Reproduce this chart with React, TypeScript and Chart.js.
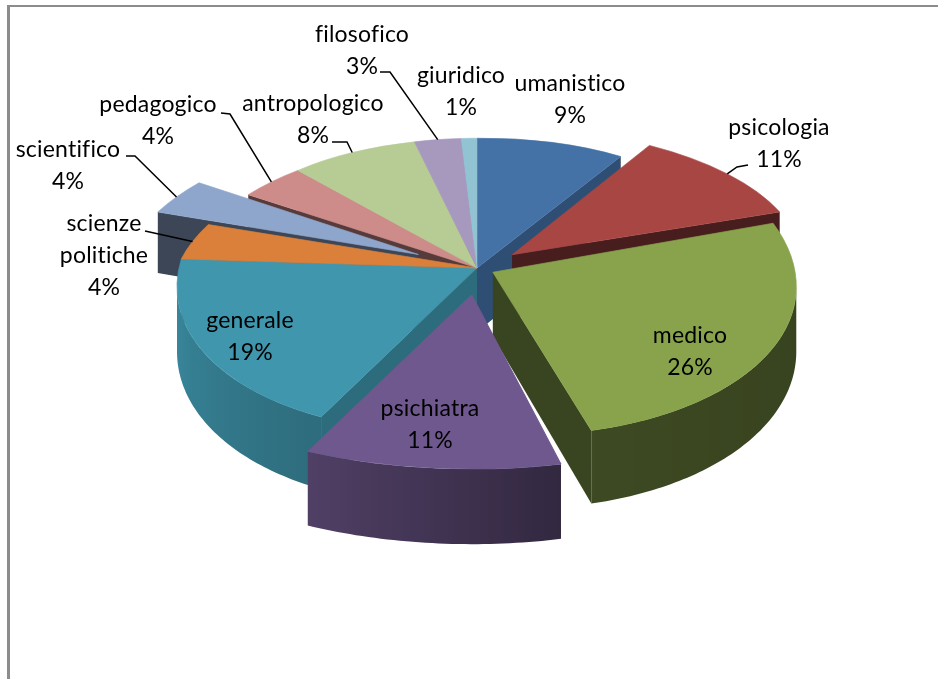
import React, { useEffect, useRef } from "react";
import { Chart, registerables } from "chart.js";

Chart.register(...registerables);

// Slices, clockwise from 12 o'clock
const categories = [
  "umanistico",
  "psicologia",
  "medico",
  "psichiatra",
  "generale",
  "scienze politiche",
  "scientifico",
  "pedagogico",
  "antropologico",
  "filosofico",
  "giuridico",
];
const percentages = [9, 11, 26, 11, 19, 4, 4, 4, 8, 3, 1];

// Top-face colours of the slices
const faceColors = [
  "#4471A6",
  "#A84644",
  "#88A34C",
  "#6F588D",
  "#3F96AD",
  "#DA803A",
  "#8FA6CC",
  "#CD8C8A",
  "#B7CB95",
  "#A798BE",
  "#91C3D3",
];

// How far each slice is pulled out, as a fraction of the radius
const explodeFractions = [0, 0.15, 0.06, 0.18, 0, 0, 0.22, 0, 0, 0, 0];

// Data-label placement: centre x, first baseline y, leader-line start points
const labelSpots: { x: number; y: number; leader?: [number, number][] }[] = [
  { x: 570, y: 91 },
  { x: 779, y: 135, leader: [[748, 165], [737, 167]] },
  { x: 690, y: 343 },
  { x: 430, y: 416 },
  { x: 250, y: 328 },
  { x: 104, y: 231, leader: [[145, 231]] },
  { x: 68, y: 157, leader: [[126, 156], [135, 156]] },
  { x: 158, y: 112, leader: [[221, 113], [230, 114]] },
  { x: 313, y: 111, leader: [[332, 142], [347, 142]] },
  { x: 362, y: 42, leader: [[380, 72], [390, 72]] },
  { x: 461, y: 83 },
];

// Tilted-disc view: centre, radii, perspective (left half / right half / vertical) and slab thickness
const VIEW = { cx: 477, cy: 268, rx: 300, ry: 146, pxLeft: 0.2, pxRight: 0.14, py: 0.125, depth: 64 };
const LABEL_FONT = "23px Lato";
const LINE_GAP = 32;
const CORNER_WEIGHT = 10;

// Shade of the curved rim by angle (degrees from 12 o'clock)
const rimShadeStops: [number, number][] = [
  [90, 0.4],
  [165, 0.45],
  [205, 0.72],
  [270, 0.92],
];

function rimShade(deg: number) {
  if (deg <= rimShadeStops[0][0]) return rimShadeStops[0][1];
  for (let k = 1; k < rimShadeStops.length; k++) {
    const [d1, f1] = rimShadeStops[k];
    const [d0, f0] = rimShadeStops[k - 1];
    if (deg <= d1) return f0 + ((deg - d0) / (d1 - d0)) * (f1 - f0);
  }
  return rimShadeStops[rimShadeStops.length - 1][1];
}

function shade(hex: string, f: number) {
  const n = parseInt(hex.slice(1), 16);
  const r = Math.round(((n >> 16) & 255) * f);
  const g = Math.round(((n >> 8) & 255) * f);
  const b = Math.round((n & 255) * f);
  return `rgb(${r},${g},${b})`;
}

// (u, d): position on the unit disc, u to the right, d towards the back
function project(u: number, d: number) {
  const px = u < 0 ? VIEW.pxLeft : VIEW.pxRight;
  const wx = 1 / (1 + px * d);
  const wy = 1 / (1 + VIEW.py * d);
  return { x: VIEW.cx + VIEW.rx * u * wx, y: VIEW.cy - VIEW.ry * d * wy };
}

type Pt = { x: number; y: number };

function sliceGeometry(arc: any, i: number) {
  const t1 = arc.startAngle + Math.PI / 2;
  const t2 = arc.endAngle + Math.PI / 2;
  const tm = (t1 + t2) / 2;
  const e = explodeFractions[i] || 0;
  const eu = e * Math.sin(tm);
  const ed = e * Math.cos(tm);
  const T = project(eu, ed);
  let m11: number, m12: number, m21: number, m22: number;

  if (e > 0) {
    // detached slice: weighted best-fit linear map of its rim around the tip
    const n = Math.max(4, Math.ceil((t2 - t1) / (Math.PI / 90)));
    let a11 = 0, a12 = 0, a22 = 0, b11 = 0, b12 = 0, b21 = 0, b22 = 0;
    for (let k = 0; k <= n; k++) {
      const t = t1 + ((t2 - t1) * k) / n;
      const w = k === 0 || k === n ? CORNER_WEIGHT : 1;
      const vx = Math.sin(t), vy = -Math.cos(t);
      const p = project(Math.sin(t) + eu, Math.cos(t) + ed);
      const sx = p.x - T.x, sy = p.y - T.y;
      a11 += w * vx * vx; a12 += w * vx * vy; a22 += w * vy * vy;
      b11 += w * sx * vx; b12 += w * sx * vy; b21 += w * sy * vx; b22 += w * sy * vy;
    }
    const da = a11 * a22 - a12 * a12;
    const j11 = a22 / da, j12 = -a12 / da, j22 = a11 / da;
    m11 = b11 * j11 + b12 * j12;
    m12 = b11 * j12 + b12 * j22;
    m21 = b21 * j11 + b22 * j12;
    m22 = b21 * j12 + b22 * j22;
  } else {
    // slices in place: exact at tip and both rim corners so that seams meet
    const c1 = project(Math.sin(t1), Math.cos(t1));
    const c2 = project(Math.sin(t2), Math.cos(t2));
    const v1x = Math.sin(t1), v1y = -Math.cos(t1);
    const v2x = Math.sin(t2), v2y = -Math.cos(t2);
    const det = v1x * v2y - v2x * v1y;
    const i11 = v2y / det, i12 = -v2x / det, i21 = -v1y / det, i22 = v1x / det;
    const s1x = c1.x - T.x, s1y = c1.y - T.y, s2x = c2.x - T.x, s2y = c2.y - T.y;
    m11 = s1x * i11 + s2x * i21;
    m12 = s1x * i12 + s2x * i22;
    m21 = s1y * i11 + s2y * i21;
    m22 = s1y * i12 + s2y * i22;
  }

  const rim = (t: number, r = 1): Pt => {
    const X = r * Math.sin(t), Y = -r * Math.cos(t);
    return { x: T.x + m11 * X + m12 * Y, y: T.y + m21 * X + m22 * Y };
  };
  const drop = (d: number) => VIEW.depth / (1 + VIEW.py * d);
  return { t1, t2, tm, eu, ed, T, m11, m12, m21, m22, rim, drop };
}

function drawWalls(ctx: CanvasRenderingContext2D, g: ReturnType<typeof sliceGeometry>, color: string) {
  const { t1, t2, tm, ed, T, rim, drop } = g;
  const inner = rim(tm, 0.5);
  const tipDrop = drop(ed);

  const radial = (t: number, nu: number) => {
    const C = rim(t);
    const vx = C.x - T.x, vy = C.y - T.y;
    const side = vx * (inner.y - T.y) - vy * (inner.x - T.x);
    if (side * vx >= 0) return;
    const cd = drop(Math.cos(t) + ed);
    const f = 0.42 + 0.3 * Math.min(1, Math.max(0, (nu - 0.3) / 0.6));
    ctx.beginPath();
    ctx.moveTo(T.x, T.y);
    ctx.lineTo(C.x, C.y);
    ctx.lineTo(C.x, C.y + cd);
    ctx.lineTo(T.x, T.y + tipDrop);
    ctx.closePath();
    ctx.fillStyle = shade(color, f);
    ctx.fill();
  };
  radial(t1, -Math.cos(t1));
  radial(t2, Math.cos(t2));

  // curved rim, only where it faces the viewer
  const steps = Math.max(2, Math.ceil((t2 - t1) / (Math.PI / 180)));
  const ts: number[] = [];
  const tops: Pt[] = [];
  for (let k = 0; k <= steps; k++) {
    const t = t1 + ((t2 - t1) * k) / steps;
    ts.push(t);
    tops.push(rim(t));
  }
  const runs: number[][] = [];
  let run: number[] = [];
  for (let k = 0; k < steps; k++) {
    if (tops[k].x > tops[k + 1].x) {
      if (!run.length) run.push(k);
      run.push(k + 1);
    } else if (run.length) {
      runs.push(run);
      run = [];
    }
  }
  if (run.length) runs.push(run);

  for (const r of runs) {
    const xr = tops[r[0]].x;
    const xl = tops[r[r.length - 1]].x;
    if (xr - xl < 0.5) continue;
    const grad = ctx.createLinearGradient(xr, 0, xl, 0);
    for (const k of r) {
      const off = Math.min(1, Math.max(0, (xr - tops[k].x) / (xr - xl)));
      grad.addColorStop(off, shade(color, rimShade((ts[k] * 180) / Math.PI)));
    }
    ctx.beginPath();
    r.forEach((k, j) => (j ? ctx.lineTo(tops[k].x, tops[k].y) : ctx.moveTo(tops[k].x, tops[k].y)));
    for (let j = r.length - 1; j >= 0; j--) {
      const k = r[j];
      ctx.lineTo(tops[k].x, tops[k].y + drop(Math.cos(ts[k]) + ed));
    }
    ctx.closePath();
    ctx.fillStyle = grad;
    ctx.fill();
  }
}

const pie3dPlugin = {
  id: "pie3d",
  beforeDatasetsDraw(chart: any) {
    const ctx: CanvasRenderingContext2D = chart.ctx;
    const arcs = chart.getDatasetMeta(0).data as any[];
    const geos = arcs.map((a, i) => sliceGeometry(a, i));

    // side walls, back to front
    const order = geos
      .map((g, i) => i)
      .sort((a, b) => Math.cos(geos[b].tm) + geos[b].ed - (Math.cos(geos[a].tm) + geos[a].ed));
    for (const i of order) drawWalls(ctx, geos[i], faceColors[i]);

    // top faces, drawn by the arc elements under the tilted-disc mapping
    arcs.forEach((arc, i) => {
      const g = geos[i];
      const R0 = arc.outerRadius;
      ctx.save();
      ctx.transform(
        g.m11 / R0,
        g.m21 / R0,
        g.m12 / R0,
        g.m22 / R0,
        g.T.x - (g.m11 * arc.x + g.m12 * arc.y) / R0,
        g.T.y - (g.m21 * arc.x + g.m22 * arc.y) / R0
      );
      arc.draw(ctx);
      ctx.restore();
    });
    return false;
  },
  afterDraw(chart: any) {
    const ctx: any = chart.ctx;
    const arcs = chart.getDatasetMeta(0).data as any[];
    ctx.save();
    ctx.font = LABEL_FONT;
    if ("letterSpacing" in ctx) ctx.letterSpacing = "0.2px";
    if ("textRendering" in ctx) ctx.textRendering = "optimizeSpeed";
    ctx.fillStyle = "#000";
    ctx.strokeStyle = "#000";
    ctx.lineWidth = 1.5;
    ctx.textAlign = "center";
    ctx.textBaseline = "alphabetic";
    arcs.forEach((arc, i) => {
      const spot = labelSpots[i];
      const lines = [...categories[i].split(" "), `${percentages[i]}%`];
      lines.forEach((txt, k) => ctx.fillText(txt, spot.x, spot.y + k * LINE_GAP));
      if (spot.leader) {
        const g = sliceGeometry(arc, i);
        const end = g.rim(g.tm);
        ctx.beginPath();
        spot.leader.forEach(([x, y], j) => (j ? ctx.lineTo(x, y) : ctx.moveTo(x, y)));
        ctx.lineTo(end.x, end.y);
        ctx.stroke();
      }
    });
    ctx.restore();
  },
};

export default function App() {
  const canvasRef = useRef<HTMLCanvasElement | null>(null);

  useEffect(() => {
    let chart: Chart | null = null;
    let cancelled = false;
    const build = () => {
      if (cancelled || !canvasRef.current) return;
      chart = new Chart(canvasRef.current, {
        type: "pie",
        data: {
          labels: categories,
          datasets: [
            {
              data: percentages,
              backgroundColor: faceColors,
              borderColor: faceColors,
              borderWidth: 1,
            },
          ],
        },
        options: {
          animation: false,
          responsive: false,
          devicePixelRatio: 1,
          events: [],
          plugins: {
            legend: { display: false },
            tooltip: { enabled: false },
          },
        },
        plugins: [pie3dPlugin as any],
      });
    };
    const fonts = (document as any).fonts;
    if (fonts && fonts.load) {
      fonts.load(LABEL_FONT).then(build, build);
    } else {
      build();
    }
    return () => {
      cancelled = true;
      if (chart) chart.destroy();
    };
  }, []);

  return (
    <div
      style={{
        position: "fixed",
        left: 0,
        top: 0,
        width: 938,
        height: 679,
        background: "#fff",
        overflow: "hidden",
      }}
    >
      <canvas
        ref={canvasRef}
        width={938}
        height={679}
        style={{ position: "absolute", left: 0, top: 0, width: 938, height: 679 }}
      />
      <div
        style={{
          position: "absolute",
          left: 7,
          top: 5,
          width: 960,
          height: 700,
          borderTop: "2px solid #8c8c8c",
          borderLeft: "3px solid #8c8c8c",
          boxSizing: "border-box",
          pointerEvents: "none",
        }}
      />
    </div>
  );
}
